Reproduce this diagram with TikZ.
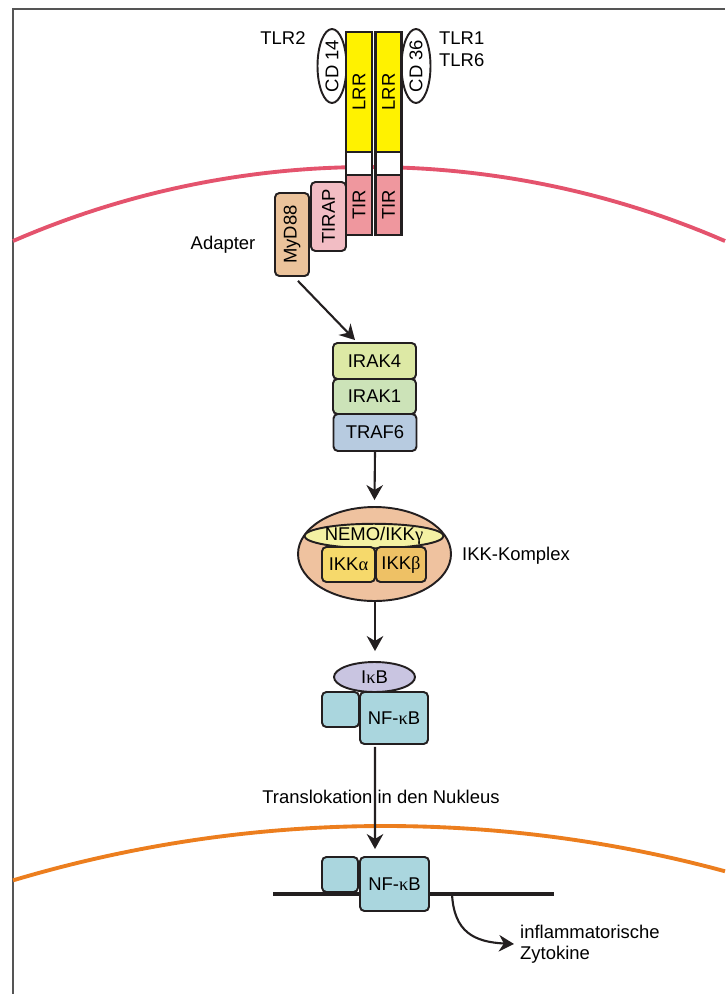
\documentclass[tikz,border=0pt]{standalone}
\usepackage{fontspec}
\setmainfont{Liberation Sans}
\newfontfamily\greekfont{Liberation Serif}
\usetikzlibrary{arrows.meta,shapes.geometric}
\newcommand{\gr}[1]{{\greekfont #1}}
\definecolor{tlrink}{HTML}{231F20}
\definecolor{framegray}{HTML}{555555}
\definecolor{cellred}{HTML}{E4536D}
\definecolor{nucorange}{HTML}{EC7E1E}
\definecolor{lrryellow}{HTML}{FFF200}
\definecolor{tirpink}{HTML}{EF979E}
\definecolor{tirappink}{HTML}{F2BDC4}
\definecolor{mydtan}{HTML}{EBC39B}
\definecolor{irakfour}{HTML}{DDE9A5}
\definecolor{irakone}{HTML}{CCE3B8}
\definecolor{trafblue}{HTML}{B7CBE0}
\definecolor{ikkbody}{HTML}{EFC29F}
\definecolor{nemoyellow}{HTML}{F4F1A3}
\definecolor{ikkalpha}{HTML}{F6D96B}
\definecolor{ikkbeta}{HTML}{EEC165}
\definecolor{ikbviolet}{HTML}{C9C5E1}
\definecolor{nfkbteal}{HTML}{AAD6DE}
\tikzset{
  rcptBox/.style={draw=tlrink, line width=1.2pt, inner sep=0pt, outer sep=0pt, rotate=90, minimum height=0.52cm},
  cytoBox/.style={draw=tlrink, line width=1.1pt, rounded corners=2.5pt, inner sep=0pt, align=center},
  sideOval/.style={ellipse, draw=tlrink, line width=1.1pt, fill=white, inner sep=0pt, rotate=90},
  roundOval/.style={ellipse, draw=tlrink, line width=1.1pt, inner sep=0pt},
  sigArrow/.style={-{Stealth[length=3mm, width=3.3mm]}, line width=1.2pt, draw=tlrink},
  membrane/.style={line width=2.2pt}
}

\begin{document}
\begin{tikzpicture}[x=0.02cm, y=-0.02cm, font=\fontsize{10.5}{12}\selectfont]
  \useasboundingbox (0,0) rectangle (725,994);
  \draw[framegray, line width=0.7pt] (13,994) -- (13,9) -- (725,9);
  % membranes
  \draw[cellred, membrane] plot[smooth, domain=13:725, samples=60] (\x, {1060 - 100*sqrt(8.93^2 - ((\x-369)/100)^2)});
  \draw[nucorange, membrane] plot[smooth, domain=13:725, samples=60] (\x, {2126 - 100*sqrt(13^2 - ((\x-385)/100)^2)});

  % receptor
  \node[sideOval, minimum width=1.36cm, minimum height=0.58cm] (cd14) at (332,66) {CD 14};
  \node[sideOval, minimum width=1.36cm, minimum height=0.58cm] (cd36) at (416,66) {CD 36};
  \node[rcptBox, fill=lrryellow, minimum width=2.4cm] (lrrL) at (359,92) {LRR};
  \node[rcptBox, fill=white, minimum width=0.46cm] (tmL) at (359,163.5) {};
  \node[rcptBox, fill=tirpink, minimum width=1.2cm] (tirL) at (359,205) {TIR};
  \node[rcptBox, fill=lrryellow, minimum width=2.4cm] (lrrR) at (388.5,92) {LRR};
  \node[rcptBox, fill=white, minimum width=0.46cm] (tmR) at (388.5,163.5) {};
  \node[rcptBox, fill=tirpink, minimum width=1.2cm] (tirR) at (388.5,205) {TIR};
  \node (tlr2) at (283,38) {TLR2};
  \node[anchor=west] (tlr1) at (433,38) {TLR1};
  \node[anchor=west] (tlr6) at (433,60) {TLR6};

  % adapters
  \node[cytoBox, rotate=90, fill=tirappink, minimum width=1.38cm, minimum height=0.7cm] (tirap) at (328.5,216.5) {TIRAP};
  \node[cytoBox, rotate=90, fill=mydtan, minimum width=1.66cm, minimum height=0.68cm] (myd) at (292,234.5) {MyD88};
  \node (adapter) at (223,245) {Adapter};

  % kinases
  \node[cytoBox, fill=irakfour, minimum width=1.66cm, minimum height=0.72cm] (irak4) at (374.5,361) {IRAK4};
  \node[cytoBox, fill=irakone, minimum width=1.66cm, minimum height=0.7cm] (irak1) at (374.5,396.5) {IRAK1};
  \node[cytoBox, fill=trafblue, minimum width=1.66cm, minimum height=0.74cm] (traf6) at (375,432.5) {TRAF6};

  % IKK complex
  \node[roundOval, fill=ikkbody, minimum width=3.06cm, minimum height=1.88cm] (ikk) at (374.5,554) {};
  \node[roundOval, fill=nemoyellow, minimum width=2.36cm, minimum height=0.44cm] (nemo) at (374,536) {NEMO/IKK\gr{γ}};
  \node[cytoBox, fill=ikkalpha, minimum width=1.06cm, minimum height=0.7cm] (ikka) at (348.5,564.5) {IKK\gr{α}};
  \node[cytoBox, fill=ikkbeta, minimum width=1.0cm, minimum height=0.7cm] (ikkb) at (401,564.5) {IKK\gr{β}};
  \node (ikklabel) at (516,556) {IKK-Komplex};

  % IkB / NF-kB in the cytoplasm
  \node[cytoBox, fill=nfkbteal, minimum width=0.74cm, minimum height=0.7cm] (nfcS) at (340.5,709.5) {};
  \node[cytoBox, fill=nfkbteal, minimum width=1.36cm, minimum height=1.04cm] (nfc) at (394,718) {NF-\gr{κ}B};
  \node[roundOval, fill=ikbviolet, minimum width=1.62cm, minimum height=0.6cm] (ikb) at (374.5,677) {I\gr{κ}B};
  \node (transloc) at (381,797) {Translokation in den Nukleus};

  % nucleus
  \coordinate (dnaL) at (273,894);
  \coordinate (dnaR) at (554,894);
  \draw[tlrink, line width=2.8pt] (dnaL) -- (dnaR);
  \node[cytoBox, fill=nfkbteal, minimum width=0.72cm, minimum height=0.7cm] (nfnS) at (340,874.5) {};
  \node[cytoBox, fill=nfkbteal, minimum width=1.38cm, minimum height=1.08cm] (nfn) at (394.5,884) {NF-\gr{κ}B};
  \coordinate (tss) at (452,894);
  \node[anchor=west, align=left] (cyto) at (514,944) {inflammatorische\\Zytokine};

  % arrows
  \draw[sigArrow] ([xshift=0.12cm, yshift=-0.08cm]myd.west) -- ([xshift=-0.39cm, yshift=0.04cm]irak4.north);
  \draw[sigArrow] (traf6.south) -- ([yshift=0.12cm]ikk.north);
  \draw[sigArrow] ([xshift=0.01cm]ikk.south) -- ([xshift=0.01cm, yshift=0.2cm]ikb.north);
  \draw[sigArrow] ([xshift=-0.38cm, yshift=-0.04cm]nfc.south) -- ([xshift=-0.39cm, yshift=0.14cm]nfn.north);
  \draw[sigArrow] (tss) .. controls +(2,38) and +(-40,-2) .. (cyto.west);
\end{tikzpicture}
\end{document}
